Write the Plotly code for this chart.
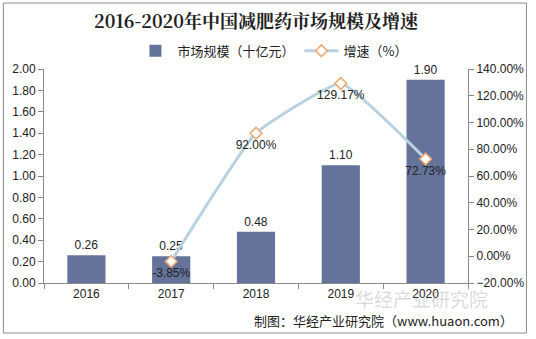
import plotly.graph_objects as go

years = ["2016", "2017", "2018", "2019", "2020"]
market_size = [0.26, 0.25, 0.48, 1.10, 1.90]      # 十亿元
growth_rate = [None, -3.85, 92.00, 129.17, 72.73]  # %
growth_years = years

title_text = "2016-2020年中国减肥药市场规模及增速"
source_text = "制图：华经产业研究院（www.huaon.com）"
watermark_text = "华经产业研究院"

BAR_COLOR = "#65739a"
LINE_COLOR = "#b9d2e2"
MARKER_EDGE = "#f0a56e"
TEXT_COLOR = "#222222"
FONT = "Noto Sans CJK SC, Liberation Sans, Arial, sans-serif"
NUM_FONT = "Liberation Sans, Arial, sans-serif"

fig = go.Figure()

fig.add_trace(go.Bar(
    x=years,
    y=market_size,
    name="市场规模（十亿元）",
    marker=dict(color=BAR_COLOR, line=dict(width=0)),
    width=0.45,
    text=[f"{v:.2f}" for v in market_size],
    textposition="outside",
    textfont=dict(size=12, color=TEXT_COLOR, family=NUM_FONT),
    cliponaxis=False,
))

fig.add_trace(go.Scatter(
    x=growth_years[1:],
    y=growth_rate[1:],
    name="增速（%）",
    yaxis="y2",
    mode="lines+markers+text",
    line=dict(color=LINE_COLOR, width=3, shape="spline", smoothing=0.35),
    marker=dict(symbol="diamond", size=9, color="white",
                line=dict(color=MARKER_EDGE, width=1.5)),
    text=[f"{v:.2f}%" for v in growth_rate[1:]],
    textposition="bottom center",
    textfont=dict(size=12, color=TEXT_COLOR, family=NUM_FONT),
    cliponaxis=False,
))

axis_common = dict(
    showline=True,
    linecolor="#888888",
    linewidth=1,
    ticks="outside",
    ticklen=5,
    tickcolor="#888888",
    showgrid=False,
    zeroline=False,
    tickfont=dict(size=12, family=NUM_FONT, color=TEXT_COLOR),
)

fig.update_layout(
    width=536,
    height=339,
    margin=dict(l=44, r=64, t=69, b=56),
    paper_bgcolor="white",
    plot_bgcolor="white",
    font=dict(family=FONT, size=12, color=TEXT_COLOR),
    showlegend=True,
    title=dict(
        text=f"<b>{title_text}</b>",
        x=0.5, xref="paper", xanchor="center",
        y=0.935, yanchor="middle",
        font=dict(family="Noto Serif CJK SC, Noto Sans CJK SC, serif", size=18, color="#222222"),
    ),
    legend=dict(
        orientation="h",
        x=0.54, xanchor="center",
        y=1.085, yanchor="middle",
        font=dict(size=13, color=TEXT_COLOR),
        itemwidth=34,
        tracegroupgap=20,
        bgcolor="rgba(0,0,0,0)",
    ),
    xaxis=dict(type="category", tickson="boundaries", **axis_common),
    yaxis=dict(range=[0, 2.0], dtick=0.2, tickformat=".2f", **axis_common),
    yaxis2=dict(
        overlaying="y",
        side="right",
        range=[-20, 140],
        dtick=20,
        tickformat=".2f",
        ticksuffix="%",
        **axis_common,
    ),
    shapes=[
        dict(type="rect", xref="paper", yref="paper",
             x0=-41 / 428, x1=487 / 428, y0=-50 / 214, y1=280 / 214,
             line=dict(color="#8a8a8a", width=1), fillcolor="rgba(0,0,0,0)",
             layer="below"),
    ],
    annotations=[
        dict(text=watermark_text, xref="paper", yref="paper",
             x=(425 - 44) / 428, y=-15 / 214, xanchor="center", yanchor="middle",
             showarrow=False,
             font=dict(size=19, color="rgba(150,150,150,0.35)", family=FONT)),
        dict(text=source_text, xref="paper", yref="paper",
             x=210 / 428, y=-37 / 214, xanchor="left", yanchor="middle",
             showarrow=False,
             font=dict(size=13, color=TEXT_COLOR, family=FONT)),
    ],
)

fig.write_html("out.html")
